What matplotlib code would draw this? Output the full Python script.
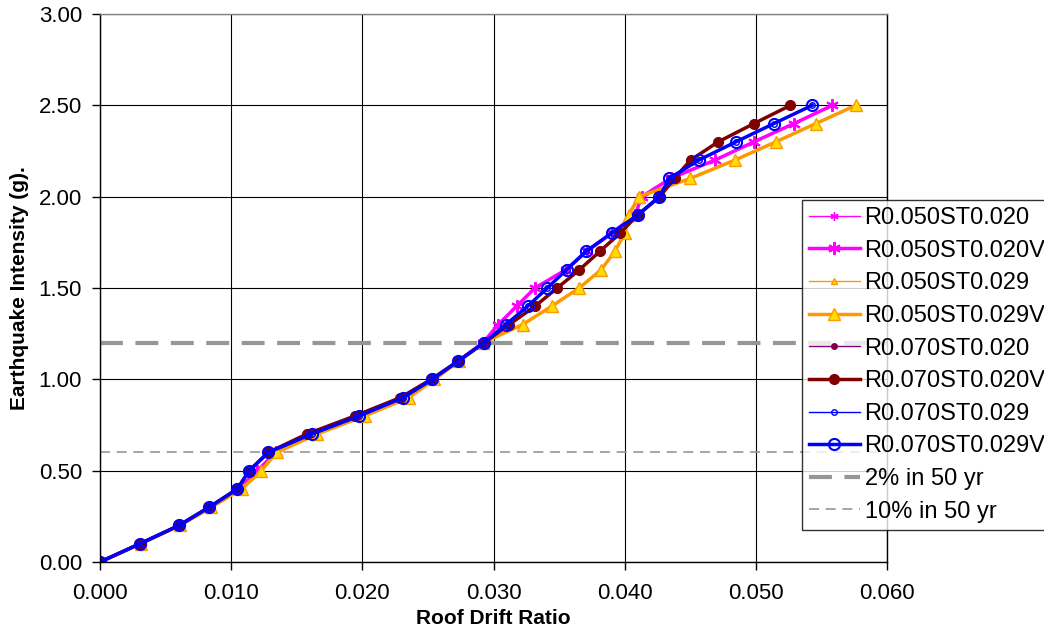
import matplotlib
matplotlib.use('Agg')
import matplotlib.pyplot as plt

plt.rcParams['font.family'] = ['Liberation Sans', 'DejaVu Sans']

# earthquake intensity levels (g)
intensity = [0.0, 0.1, 0.2, 0.3, 0.4, 0.5, 0.6, 0.7, 0.8, 0.9, 1.0, 1.1, 1.2,
             1.3, 1.4, 1.5, 1.6, 1.7, 1.8, 1.9, 2.0, 2.1, 2.2, 2.3, 2.4, 2.5]

# roof drift ratio for each model
drift_r050_st020 = [0.0, 0.00305, 0.00602, 0.00833, 0.0106, 0.0120, 0.0134, 0.0162,
                    0.0198, 0.0232, 0.0254, 0.0273, 0.0292, 0.03036, 0.03176, 0.03316,
                    0.03552, 0.0371, 0.0390, 0.0408, 0.0413, 0.0435, 0.04688, 0.04985,
                    0.0529, 0.05584]
drift_r050_st029 = [0.0, 0.0031, 0.0061, 0.0085, 0.0108, 0.0123, 0.01347, 0.01652,
                    0.0202, 0.02355, 0.0255, 0.0274, 0.0292, 0.03222, 0.03443, 0.03653,
                    0.03821, 0.03925, 0.0400, 0.0403, 0.0411, 0.0450, 0.0484, 0.05152,
                    0.05457, 0.05762]
drift_r070_st020 = [0.0, 0.00305, 0.00602, 0.00833, 0.01047, 0.01138, 0.01283, 0.01575,
                    0.01944, 0.0229, 0.02525, 0.02731, 0.02927, 0.0312, 0.03316, 0.03486,
                    0.03655, 0.0381, 0.03965, 0.0410, 0.04268, 0.0438, 0.04502, 0.04713,
                    0.04985, 0.05264]
drift_r070_st029 = [0.0, 0.00305, 0.00602, 0.00833, 0.01047, 0.01138, 0.01283, 0.01613,
                    0.01977, 0.02312, 0.02533, 0.02731, 0.02927, 0.03095, 0.0326, 0.0341,
                    0.03557, 0.03704, 0.0390, 0.0410, 0.04265, 0.0434, 0.04565, 0.04848,
                    0.05137, 0.0543]

hazard_levels = [1.2, 0.6]
hazard_labels = ['2% in 50 yr', '10% in 50 yr']

fig = plt.figure(figsize=(10.44, 6.34), dpi=100)
ax = fig.add_axes([100/1044, 1 - 562/634, 787/1044, 548/634])

asterisk = (6, 2, 0)

ax.plot(drift_r050_st020, intensity, color='#FF00FF', lw=1, marker=asterisk,
        ms=6, mew=1, label='R0.050ST0.020')
ax.plot(drift_r050_st020, intensity, color='#FF00FF', lw=2.5, marker=asterisk,
        ms=9, mew=1.5, label='R0.050ST0.020V')
ax.plot(drift_r050_st029, intensity, color='#FF9900', lw=1, marker='^',
        ms=4, mfc='#FFDD00', mec='#FF9900', label='R0.050ST0.029')
ax.plot(drift_r050_st029, intensity, color='#FF9900', lw=2.5, marker='^',
        ms=8, mfc='#FFDD00', mec='#FF9900', label='R0.050ST0.029V')
ax.plot(drift_r070_st020, intensity, color='#800080', lw=1, marker='o',
        ms=4, mfc='#800040', mec='#800040', label='R0.070ST0.020')
ax.plot(drift_r070_st020, intensity, color='#800000', lw=2.5, marker='o',
        ms=7, mfc='#800000', mec='#800000', label='R0.070ST0.020V')
ax.plot(drift_r070_st029, intensity, color='#0000FF', lw=1, marker='o',
        ms=4, mfc='none', mec='#0000FF', mew=1, label='R0.070ST0.029')
ax.plot(drift_r070_st029, intensity, color='#0000FF', lw=2.5, marker='o',
        ms=8, mfc='none', mec='#0000FF', mew=1.5, label='R0.070ST0.029V')

l1 = ax.axhline(hazard_levels[0], color='#969696', lw=3, zorder=1.5,
                label=hazard_labels[0])
l1.set_dashes((5.5, 3))
l2 = ax.axhline(hazard_levels[1], color='#969696', lw=1.2, zorder=1.5,
                label=hazard_labels[1])
l2.set_dashes((6, 4))

ax.set_xlim(0, 0.060)
ax.set_ylim(0, 3.0)
ax.set_xticks([0.0, 0.01, 0.02, 0.03, 0.04, 0.05, 0.06])
ax.set_xticklabels(['0.000', '0.010', '0.020', '0.030', '0.040', '0.050', '0.060'])
ax.set_yticks([0.0, 0.5, 1.0, 1.5, 2.0, 2.5, 3.0])
ax.set_yticklabels(['0.00', '0.50', '1.00', '1.50', '2.00', '2.50', '3.00'])
ax.tick_params(axis='both', direction='out', length=6, width=1, labelsize=16,
               color='black')
ax.tick_params(axis='x', pad=9)
ax.tick_params(axis='y', pad=7)
ax.grid(True, color='black', lw=0.8)
ax.set_axisbelow(True)
for s in ax.spines.values():
    s.set_color('black')
    s.set_linewidth(1)
ax.spines['top'].set_color('#808080')

ax.set_xlabel('Roof Drift Ratio', fontsize=15, fontweight='bold', labelpad=4)
ax.set_ylabel('Earthquake Intensity (g).', fontsize=15, fontweight='bold', labelpad=7)

leg = fig.legend(loc='upper left', bbox_to_anchor=(802/1044, 1 - 200/634),
                 fontsize=17, frameon=True, fancybox=False, edgecolor='black',
                 handlelength=2.15, handletextpad=0.2, labelspacing=0.45,
                 borderpad=0.3, borderaxespad=0)
leg.get_frame().set_linewidth(1)

fig.savefig('out.png', dpi=100)
